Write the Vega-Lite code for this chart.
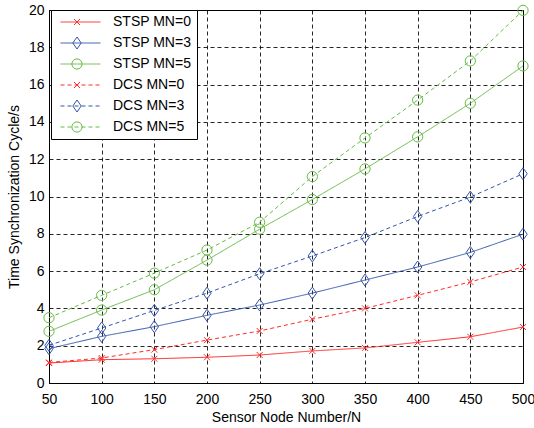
{
  "$schema": "https://vega.github.io/schema/vega-lite/v6.json",
  "width": 474,
  "height": 373,
  "autosize": {"type": "none"},
  "padding": {"left": 49, "top": 10, "right": 11, "bottom": 45},
  "background": "white",
  "config": {
    "font": "Liberation Sans",
    "view": {"stroke": "black", "strokeWidth": 1},
    "axis": {
      "labelFont": "Liberation Sans",
      "titleFont": "Liberation Sans",
      "labelFontSize": 14,
      "titleFontSize": 14,
      "titleFontWeight": "normal",
      "labelColor": "black",
      "titleColor": "black",
      "domainColor": "black",
      "ticks": false,
      "labelFlush": false,
      "grid": true,
      "gridColor": "black",
      "gridDash": [4, 3],
      "gridOpacity": 0.85,
      "gridWidth": 1
    },
    "legend": {
      "labelFont": "Liberation Sans",
      "labelFontSize": 14,
      "labelColor": "black"
    }
  },
  "data": {
    "values": [
      {"n": 50, "y": 1.07, "series": "STSP MN=0"},
      {"n": 100, "y": 1.25, "series": "STSP MN=0"},
      {"n": 150, "y": 1.3, "series": "STSP MN=0"},
      {"n": 200, "y": 1.38, "series": "STSP MN=0"},
      {"n": 250, "y": 1.5, "series": "STSP MN=0"},
      {"n": 300, "y": 1.72, "series": "STSP MN=0"},
      {"n": 350, "y": 1.88, "series": "STSP MN=0"},
      {"n": 400, "y": 2.18, "series": "STSP MN=0"},
      {"n": 450, "y": 2.48, "series": "STSP MN=0"},
      {"n": 500, "y": 3.0, "series": "STSP MN=0"},
      {"n": 50, "y": 1.84, "series": "STSP MN=3"},
      {"n": 100, "y": 2.5, "series": "STSP MN=3"},
      {"n": 150, "y": 3.02, "series": "STSP MN=3"},
      {"n": 200, "y": 3.63, "series": "STSP MN=3"},
      {"n": 250, "y": 4.18, "series": "STSP MN=3"},
      {"n": 300, "y": 4.82, "series": "STSP MN=3"},
      {"n": 350, "y": 5.52, "series": "STSP MN=3"},
      {"n": 400, "y": 6.22, "series": "STSP MN=3"},
      {"n": 450, "y": 7.0, "series": "STSP MN=3"},
      {"n": 500, "y": 7.98, "series": "STSP MN=3"},
      {"n": 50, "y": 2.77, "series": "STSP MN=5"},
      {"n": 100, "y": 3.91, "series": "STSP MN=5"},
      {"n": 150, "y": 5.0, "series": "STSP MN=5"},
      {"n": 200, "y": 6.59, "series": "STSP MN=5"},
      {"n": 250, "y": 8.25, "series": "STSP MN=5"},
      {"n": 300, "y": 9.84, "series": "STSP MN=5"},
      {"n": 350, "y": 11.48, "series": "STSP MN=5"},
      {"n": 400, "y": 13.2, "series": "STSP MN=5"},
      {"n": 450, "y": 15.0, "series": "STSP MN=5"},
      {"n": 500, "y": 17.0, "series": "STSP MN=5"},
      {"n": 50, "y": 1.1, "series": "DCS MN=0"},
      {"n": 100, "y": 1.34, "series": "DCS MN=0"},
      {"n": 150, "y": 1.79, "series": "DCS MN=0"},
      {"n": 200, "y": 2.3, "series": "DCS MN=0"},
      {"n": 250, "y": 2.79, "series": "DCS MN=0"},
      {"n": 300, "y": 3.42, "series": "DCS MN=0"},
      {"n": 350, "y": 4.0, "series": "DCS MN=0"},
      {"n": 400, "y": 4.7, "series": "DCS MN=0"},
      {"n": 450, "y": 5.42, "series": "DCS MN=0"},
      {"n": 500, "y": 6.22, "series": "DCS MN=0"},
      {"n": 50, "y": 2.02, "series": "DCS MN=3"},
      {"n": 100, "y": 2.95, "series": "DCS MN=3"},
      {"n": 150, "y": 3.89, "series": "DCS MN=3"},
      {"n": 200, "y": 4.82, "series": "DCS MN=3"},
      {"n": 250, "y": 5.86, "series": "DCS MN=3"},
      {"n": 300, "y": 6.81, "series": "DCS MN=3"},
      {"n": 350, "y": 7.8, "series": "DCS MN=3"},
      {"n": 400, "y": 8.93, "series": "DCS MN=3"},
      {"n": 450, "y": 9.97, "series": "DCS MN=3"},
      {"n": 500, "y": 11.22, "series": "DCS MN=3"},
      {"n": 50, "y": 3.5, "series": "DCS MN=5"},
      {"n": 100, "y": 4.7, "series": "DCS MN=5"},
      {"n": 150, "y": 5.89, "series": "DCS MN=5"},
      {"n": 200, "y": 7.13, "series": "DCS MN=5"},
      {"n": 250, "y": 8.62, "series": "DCS MN=5"},
      {"n": 300, "y": 11.07, "series": "DCS MN=5"},
      {"n": 350, "y": 13.14, "series": "DCS MN=5"},
      {"n": 400, "y": 15.17, "series": "DCS MN=5"},
      {"n": 450, "y": 17.27, "series": "DCS MN=5"},
      {"n": 500, "y": 19.98, "series": "DCS MN=5"}
    ]
  },
  "encoding": {
    "x": {
      "field": "n", "type": "quantitative",
      "scale": {"domain": [50, 500], "nice": false, "zero": false},
      "axis": {"values": [50, 100, 150, 200, 250, 300, 350, 400, 450, 500], "title": "Sensor Node Number/N", "labelPadding": 9, "titlePadding": 4}
    },
    "y": {
      "field": "y", "type": "quantitative",
      "scale": {"domain": [0, 20], "nice": false},
      "axis": {"values": [0, 2, 4, 6, 8, 10, 12, 14, 16, 18, 20], "title": "Time Synchronization Cycle/s", "labelPadding": 5, "titlePadding": 7}
    }
  },
  "layer": [
    {
      "mark": {"type": "line", "strokeWidth": 1},
      "encoding": {
        "color": {
          "field": "series", "type": "nominal",
          "scale": {
            "domain": ["STSP MN=0", "STSP MN=3", "STSP MN=5", "DCS MN=0", "DCS MN=3", "DCS MN=5"],
            "range": ["#ff2a2a", "#3355aa", "#66bb44", "#ff2a2a", "#3355aa", "#66bb44"]
          },
          "legend": {
            "title": null,
            "orient": "none",
            "legendX": 2,
            "legendY": 0,
            "symbolType": "stroke",
            "symbolSize": 1600,
            "symbolStrokeWidth": 1,
            "symbolOffset": 4,
            "clipHeight": 14,
            "rowPadding": 7,
            "padding": 5,
            "labelOffset": 12,
            "fillColor": "white",
            "strokeColor": "black"
          }
        },
        "strokeDash": {
          "field": "series", "type": "nominal",
          "scale": {
            "domain": ["STSP MN=0", "STSP MN=3", "STSP MN=5", "DCS MN=0", "DCS MN=3", "DCS MN=5"],
            "range": [[1, 0], [1, 0], [1, 0], [4, 3], [4, 3], [4, 3]]
          }
        }
      }
    },
    {
      "mark": {"type": "point", "filled": false, "strokeWidth": 1, "opacity": 1},
      "encoding": {
        "color": {
          "field": "series", "type": "nominal",
          "scale": {
            "domain": ["STSP MN=0", "STSP MN=3", "STSP MN=5", "DCS MN=0", "DCS MN=3", "DCS MN=5"],
            "range": ["#ff2a2a", "#3355aa", "#66bb44", "#ff2a2a", "#3355aa", "#66bb44"]
          },
          "legend": {
            "title": null,
            "orient": "none",
            "legendX": 16,
            "legendY": 0,
            "clipHeight": 14,
            "rowPadding": 7,
            "padding": 5,
            "labelExpr": "''",
            "symbolStrokeWidth": 1
          }
        },
        "shape": {
          "field": "series", "type": "nominal",
          "scale": {
            "domain": ["STSP MN=0", "STSP MN=3", "STSP MN=5", "DCS MN=0", "DCS MN=3", "DCS MN=5"],
            "range": ["M-1,-1L1,1M-1,1L1,-1", "M0,-1L0.7,0L0,1L-0.7,0Z", "circle", "M-1,-1L1,1M-1,1L1,-1", "M0,-1L0.7,0L0,1L-0.7,0Z", "circle"]
          }
        },
        "size": {
          "field": "series", "type": "nominal",
          "scale": {
            "type": "ordinal",
            "domain": ["STSP MN=0", "STSP MN=3", "STSP MN=5", "DCS MN=0", "DCS MN=3", "DCS MN=5"],
            "range": [36, 144, 105, 36, 144, 105]
          }
        }
      }
    }
  ],
  "resolve": {
    "scale": {"color": "independent"},
    "legend": {"color": "independent", "shape": "independent", "size": "independent", "strokeDash": "independent"}
  }
}
